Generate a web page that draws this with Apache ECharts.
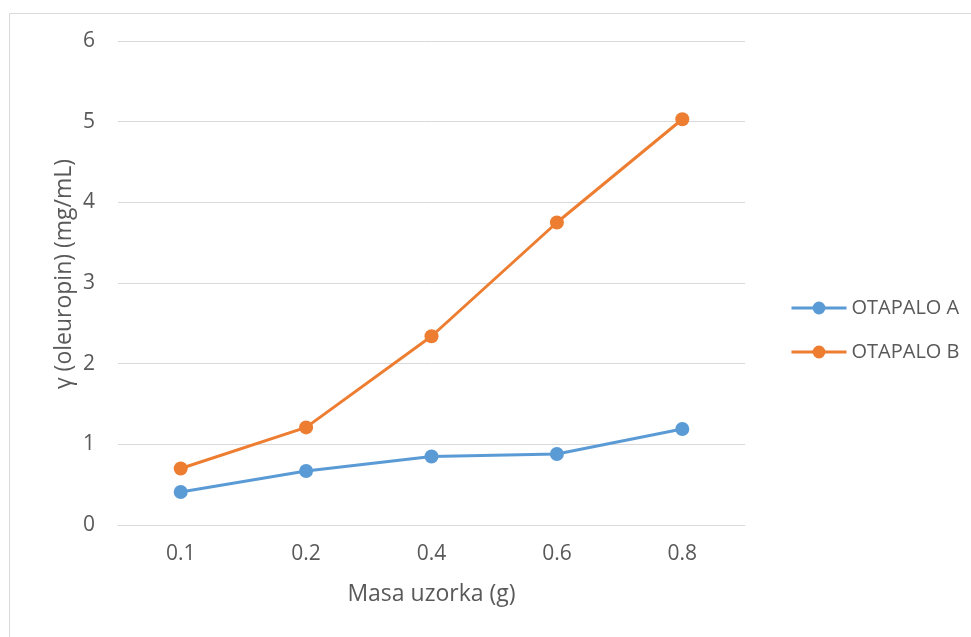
<!DOCTYPE html>
<html>
<head>
<meta charset="utf-8">
<script src="https://cdn.jsdelivr.net/npm/echarts@6/dist/echarts.min.js"></script>
<style>
html,body{margin:0;padding:0;background:#fff;}
#c{width:971px;height:637px;}
</style>
</head>
<body>
<div id="c"></div>
<script>
const categories = ['0.1', '0.2', '0.4', '0.6', '0.8'];
const seriesNames = ['OTAPALO A', 'OTAPALO B'];
const otapaloA = [0.41, 0.67, 0.85, 0.88, 1.19];
const otapaloB = [0.70, 1.21, 2.34, 3.75, 5.03];
const yTicks = [0, 1, 2, 3, 4, 5, 6];

const font = '"Open Sans", Lato, sans-serif';
const textColor = '#595959';
const chart = echarts.init(document.getElementById('c'), null, {renderer: 'canvas'});
chart.setOption({
  animation: false,
  backgroundColor: '#fff',
  textStyle: {fontFamily: font},
  graphic: [{
    type: 'rect',
    shape: {x: 9.5, y: 13.5, width: 1100, height: 800},
    style: {fill: 'none', stroke: '#d9d9d9', lineWidth: 1},
    silent: true, z: -1
  }],
  grid: {left: 118, right: 226, top: 41, bottom: 112, containLabel: false},
  legend: {
    orient: 'vertical',
    left: 785, top: 293,
    itemWidth: 55, itemHeight: 16, itemGap: 24,
    lineStyle: {width: 3},
    textStyle: {color: textColor, fontSize: 20, fontFamily: font},
    data: seriesNames
  },
  xAxis: {
    type: 'category',
    data: categories,
    boundaryGap: true,
    name: 'Masa uzorka (g)',
    nameLocation: 'middle',
    nameGap: 58,
    nameMoveOverlap: false,
    nameTextStyle: {color: textColor, fontSize: 23, fontFamily: font},
    axisLine: {show: true, lineStyle: {color: '#d9d9d9', width: 1}},
    axisTick: {show: false},
    axisLabel: {color: textColor, fontSize: 21, fontFamily: font, margin: 19}
  },
  yAxis: {
    type: 'value',
    min: yTicks[0], max: yTicks[yTicks.length - 1], interval: 1,
    name: 'γ (oleuropin) (mg/mL)',
    nameLocation: 'middle',
    nameGap: 42,
    nameMoveOverlap: false,
    nameTextStyle: {color: textColor, fontSize: 23, fontFamily: font, padding: [0, 0, 0, 18]},
    axisLine: {show: false},
    axisTick: {show: false},
    axisLabel: {color: textColor, fontSize: 21, fontFamily: font, margin: 23},
    splitLine: {lineStyle: {color: '#d9d9d9', width: 1}}
  },
  series: [
    {
      name: seriesNames[0], type: 'line', data: otapaloA,
      symbol: 'circle', symbolSize: 14,
      lineStyle: {color: '#5B9BD5', width: 3},
      itemStyle: {color: '#5B9BD5'}
    },
    {
      name: seriesNames[1], type: 'line', data: otapaloB,
      symbol: 'circle', symbolSize: 14,
      lineStyle: {color: '#ED7D31', width: 3},
      itemStyle: {color: '#ED7D31'}
    }
  ]
});
</script>
</body>
</html>
